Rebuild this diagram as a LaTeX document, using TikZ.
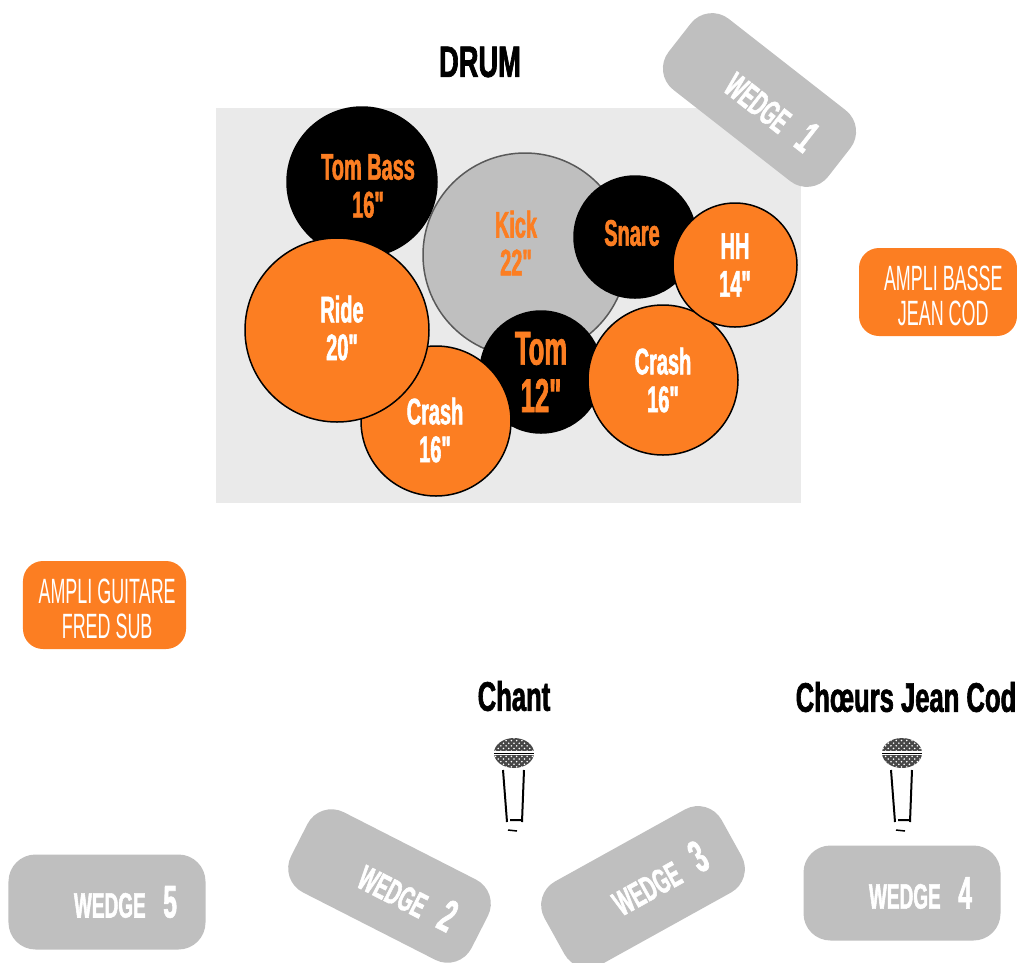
\documentclass[tikz,border=0pt]{standalone}
\usepackage{fontspec}
\setmainfont{Liberation Sans}
\newfontfamily\condfont[FakeStretch=0.54,FakeBold=1.5]{Liberation Sans}
\newfontfamily\headfont[FakeStretch=0.62,FakeBold=1.5]{Liberation Sans}
\newfontfamily\thinfont[FakeStretch=0.51]{Liberation Sans}
\usetikzlibrary{patterns}

\definecolor{drumorange}{HTML}{FC7E22}
\definecolor{wedgegray}{HTML}{BFBFBF}
\definecolor{stagegray}{HTML}{EAEAEA}

\tikzset{
    drumtext/.style={align=center,font=\condfont\bfseries\fontsize{21}{21.5}\selectfont},
    drum/.style={draw=black,circle,line width=0.3mm,inner sep=0pt,minimum size=#1*0.4mm,drumtext},
    orangedrum/.style={drum=#1,fill=drumorange,text=white},
    blackdrum/.style={drum=#1,fill=black,text=drumorange},
    wedge/.style={fill=wedgegray,rounded corners=5.4mm,text=white,align=right,minimum width=40.5mm,minimum height=18mm,
        font=\condfont\bfseries\fontsize{20}{22}\selectfont},
    ampli/.style={fill=drumorange,rounded corners=4mm,text=white,align=center,inner sep=0pt,minimum height=17.6mm,
        font=\thinfont\fontsize{20}{20}\selectfont},
    title/.style={font=\headfont\bfseries\fontsize{25}{26}\selectfont},
}
\newcommand{\bignum}[1]{\hspace{0.5em}{\fontsize{26}{26}\selectfont #1}}
\newcommand{\amplistrut}{\rule{0pt}{18.5pt}}

\begin{document}
\begin{tikzpicture}[x=0.2mm,y=-0.2mm]
    \useasboundingbox (0,0) rectangle (1017,962);

    \fill[stagegray] (216,108) rectangle (801,503);
    \node[title] at (480,62) (drumtitle) {DRUM};

    % kit, back to front
    \node[drum=102,fill=wedgegray,draw=black!65] at (525,255) (kick) {};
    \node[drumtext,text=drumorange] at (516,243) (kicktext) {Kick\\22"};
    \node[blackdrum=75] at (362,182) (tombass) {};
    \node[drumtext,text=drumorange] at (368,186) (tombasstext) {Tom Bass\\16"};
    \node[blackdrum=61] at (635,237) (snare) {};
    \node[drumtext,text=drumorange] at (632,233) (snaretext) {Snare};
    \node[blackdrum=61,font=\condfont\bfseries\fontsize{27}{27}\selectfont] at (541,372) (tom) {Tom\\12"};
    \node[orangedrum=75] at (663,380) (crashr) {Crash\\16"};
    \node[orangedrum=62] at (735,265) (hh) {HH\\14"};
    \node[orangedrum=75] at (436,421) (crashl) {};
    \node[drumtext,text=white] at (435,430) (crashltext) {Crash\\16"};
    \node[orangedrum=92] at (337,330) (ride) {};
    \node[drumtext,text=white] at (342,328) (ridetext) {Ride\\20"};

    \node[wedge,rotate=-38,text width=27mm] at (759.5,100) (wedge1) {WEDGE\bignum{1}};
    \node[wedge,rotate=-27,text width=29mm] at (389.5,886) (wedge2) {WEDGE\bignum{2}};
    \node[wedge,rotate=29,text width=28mm,minimum height=19mm] at (643,887) (wedge3) {WEDGE\bignum{3}};
    \node[wedge,minimum width=39.4mm,minimum height=19mm,text width=28mm] at (902,893) (wedge4) {WEDGE\bignum{4}};
    \node[wedge,minimum width=39.4mm,minimum height=19mm,text width=28mm] at (107,902) (wedge5) {WEDGE\bignum{5}};

    \node[ampli,minimum width=31.6mm] at (938,292) (bass) {\amplistrut\hspace{6pt}AMPLI BASSE\\\hspace{6pt}JEAN COD};
    \node[ampli,minimum width=32.6mm] at (104.5,605) (guitar) {\amplistrut\hspace{3pt}AMPLI GUITARE\\\hspace{3pt}FRED SUB};

    \node[title,font=\headfont\bfseries\fontsize{23.5}{24}\selectfont] at (514,696) (chant) {Chant};
    \node[title,font=\headfont\bfseries\fontsize{23.5}{24}\selectfont] at (906,697) (choeurs) {Chœurs Jean Cod};

    % microphones
    \foreach \mx in {514,902}{
        \begin{scope}[shift={(\mx,0)}]
            \fill[black!72] (0,753) ellipse (20 and 15);
            \fill[pattern=crosshatch dots,pattern color=white] (0,753) ellipse (20 and 15);
            \draw[white,line width=0.7mm] (-21,753) -- (21,753);
            \draw[black,line width=0.2mm] (-20,753) -- (20,753);
            \draw[line width=0.4mm] (-11,770) -- (-7,822) (10,770) -- (8,822) (-4,820) -- (7,820);
            \draw[line width=0.3mm] (-6,830) -- (3,831);
        \end{scope}
    }
\end{tikzpicture}
\end{document}
